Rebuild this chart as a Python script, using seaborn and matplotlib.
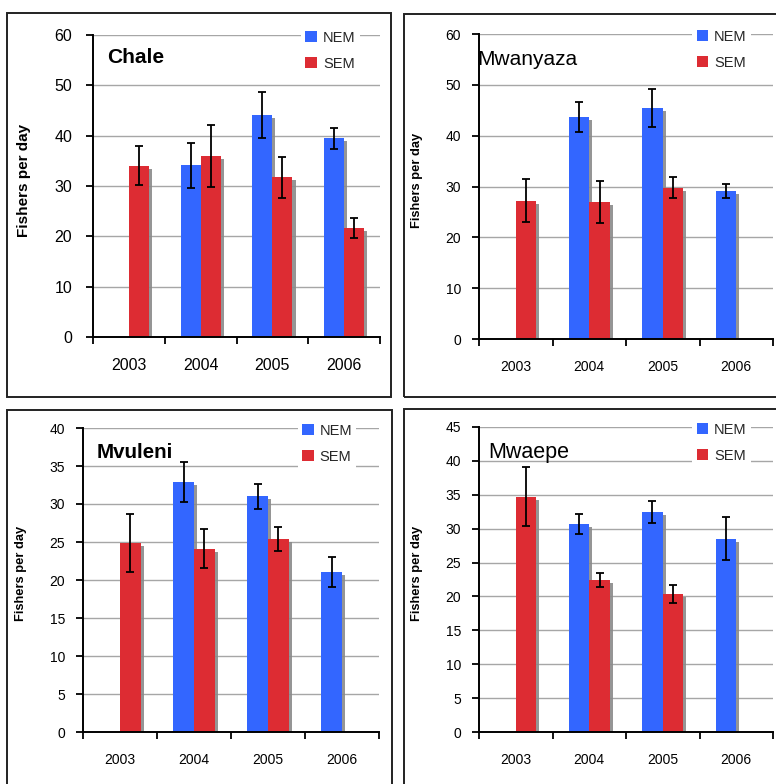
import numpy as np
import pandas as pd
import matplotlib
matplotlib.use("Agg")
import matplotlib.pyplot as plt
import matplotlib.patheffects as pe
from matplotlib.patches import Patch, Rectangle
import seaborn as sns

# ---- data -------------------------------------------------------------
years = ["2003", "2004", "2005", "2006"]
seasons = ["NEM", "SEM"]
nan = np.nan

chale_nem = [nan, 34.1, 44.1, 39.5]
chale_nem_err = [nan, 4.5, 4.5, 2.1]
chale_sem = [34.0, 36.0, 31.7, 21.6]
chale_sem_err = [3.9, 6.2, 4.1, 1.95]

mwanyaza_nem = [nan, 43.7, 45.5, 29.1]
mwanyaza_nem_err = [nan, 2.9, 3.7, 1.4]
mwanyaza_sem = [27.2, 26.9, 29.8, nan]
mwanyaza_sem_err = [4.2, 4.1, 2.1, nan]

mvuleni_nem = [nan, 32.9, 31.0, 21.05]
mvuleni_nem_err = [nan, 2.6, 1.65, 1.95]
mvuleni_sem = [24.9, 24.1, 25.4, nan]
mvuleni_sem_err = [3.85, 2.55, 1.55, nan]

mwaepe_nem = [nan, 30.7, 32.5, 28.5]
mwaepe_nem_err = [nan, 1.5, 1.6, 3.15]
mwaepe_sem = [34.7, 22.4, 20.4, nan]
mwaepe_sem_err = [4.35, 1.05, 1.3, nan]

sites = ["Chale", "Mwanyaza", "Mvuleni", "Mwaepe"]
y_max = [60, 60, 40, 45]
y_step = [10, 10, 5, 5]

palette = {"NEM": "#3366FF", "SEM": "#DD2C33"}

site_data = {
    "Chale": (chale_nem, chale_nem_err, chale_sem, chale_sem_err),
    "Mwanyaza": (mwanyaza_nem, mwanyaza_nem_err, mwanyaza_sem, mwanyaza_sem_err),
    "Mvuleni": (mvuleni_nem, mvuleni_nem_err, mvuleni_sem, mvuleni_sem_err),
    "Mwaepe": (mwaepe_nem, mwaepe_nem_err, mwaepe_sem, mwaepe_sem_err),
}

# ---- styling ----------------------------------------------------------
sns.set_theme(style="white")
plt.rcParams["font.family"] = ["Liberation Sans", "DejaVu Sans"]

W, H = 776, 784
fig = plt.figure(figsize=(W / 100, H / 100), dpi=100)


def px_axes(left, right, top, bottom):
    return [left / W, 1 - bottom / H, (right - left) / W, (bottom - top) / H]


# panel frames (pixel boxes) and axes rectangles
frames = [(7, 391, 13, 397), (404, 790, 14, 397), (7, 392, 410, 800), (404, 790, 409, 800)]
axes_px = [(93, 380, 35, 337), (479, 773, 34, 339), (83, 379, 428, 732), (479, 773, 427, 732)]

# per-panel text settings
tick_size = [11.5, 10, 10, 10]
tick_pad = [10, 8, 8, 8]
ylab_size = [11, 9.3, 9.3, 9.3]
ylab_x = [-0.215, -0.19, -0.19, -0.19]
title_size = [15, 15, 14.8, 15.5]
title_weight = ["bold", "normal", "bold", "normal"]
title_pos = [(0.05, 0.925), (-0.005, 0.915), (0.045, 0.92), (0.03, 0.918)]

for (l, r, t, b) in frames:
    fig.add_artist(Rectangle((l / W, 1 - b / H), (r - l) / W, (b - t) / H,
                             transform=fig.transFigure, fill=False,
                             edgecolor="#222222", linewidth=1.4))

for k, site in enumerate(sites):
    nem, nem_err, sem, sem_err = site_data[site]
    df = pd.DataFrame({
        "year": years * 2,
        "season": ["NEM"] * 4 + ["SEM"] * 4,
        "fishers": list(nem) + list(sem),
    }).dropna()
    errs = {"NEM": nem_err, "SEM": sem_err}

    ax = fig.add_axes(px_axes(*axes_px[k]))
    ax.set_axisbelow(True)
    ax.yaxis.grid(True, color="#a6a6a6", linewidth=1.0)
    ax.xaxis.grid(False)

    sns.barplot(data=df, x="year", y="fishers", hue="season",
                order=years, hue_order=seasons, palette=palette,
                width=0.56, errorbar=None, linewidth=0, saturation=1,
                legend=False, ax=ax)

    shadow = [pe.SimplePatchShadow(offset=(2.2, -2.2), shadow_rgbFace="#8a8a8a", alpha=0.9),
              pe.Normal()]
    for season, cont in zip(seasons, ax.containers):
        for bar in cont:
            h = bar.get_height()
            if np.isnan(h):
                continue
            bar.set_path_effects(shadow)
            xc = bar.get_x() + bar.get_width() / 2
            i = int(round(xc))
            e = errs[season][i]
            ax.errorbar(xc, h, yerr=e, fmt="none", ecolor="black",
                        elinewidth=1.3, capsize=3.2, capthick=1.3, zorder=5)

    ax.set_xlim(-0.5, 3.5)
    ax.set_ylim(0, y_max[k])
    ax.set_yticks(np.arange(0, y_max[k] + 1, y_step[k]))
    ax.set_xticks(range(len(years)))
    ax.set_xticklabels(years)
    ax.set_xticks(np.arange(-0.5, 3.6, 1.0), minor=True)
    ax.tick_params(axis="x", which="major", length=0, pad=15,
                   labelsize=tick_size[k], colors="black")
    ax.tick_params(axis="x", which="minor", length=5, width=1.3,
                   direction="out", bottom=True, color="black")
    ax.tick_params(axis="y", which="major", length=5, width=1.3,
                   direction="out", left=True, pad=tick_pad[k],
                   labelsize=tick_size[k], colors="black")

    for s in ["top", "right"]:
        ax.spines[s].set_visible(False)
    for s in ["left", "bottom"]:
        ax.spines[s].set_color("black")
        ax.spines[s].set_linewidth(1.4)

    ax.set_xlabel("")
    ax.set_ylabel("Fishers per day", fontsize=ylab_size[k], fontweight="bold",
                  color="black")
    ax.yaxis.set_label_coords(ylab_x[k], 0.52)

    ax.text(title_pos[k][0], title_pos[k][1], site, transform=ax.transAxes,
            fontsize=title_size[k], fontweight=title_weight[k], color="black",
            va="center", ha="left")

    handles = [Patch(facecolor=palette[s], edgecolor="none") for s in seasons]
    leg = ax.legend(handles, seasons, loc="upper left",
                    bbox_to_anchor=(0.725, 1.028), frameon=True, fancybox=False,
                    framealpha=1, facecolor="white", edgecolor="none",
                    fontsize=10.5, handlelength=0.8, handleheight=0.8,
                    handletextpad=0.4, labelspacing=0.8, borderpad=0.3,
                    borderaxespad=0)
    leg.set_zorder(10)

fig.savefig("out.png", dpi=100)
